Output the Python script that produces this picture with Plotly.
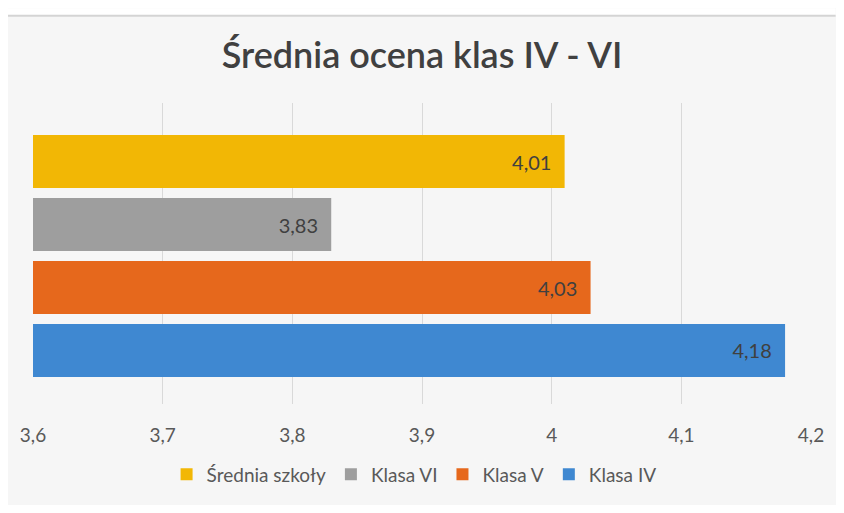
import plotly.graph_objects as go

categories = ["Klasa IV", "Klasa V", "Klasa VI", "Średnia szkoły"]
values = [4.18, 4.03, 3.83, 4.01]
colors = ["#3F88D1", "#E6681C", "#9E9E9E", "#F2B705"]
legend_order = ["Średnia szkoły", "Klasa VI", "Klasa V", "Klasa IV"]
x_ticks = [3.6, 3.7, 3.8, 3.9, 4.0, 4.1, 4.2]

# the page body keeps its default 8px margin (white border top/left)
W, H = 828, 497
ML, MR, MT, MB = 25, 17, 95, 90
PW, PH = W - ML - MR, H - MT - MB

fig = go.Figure()
for name in legend_order:
    i = categories.index(name)
    fig.add_trace(go.Bar(
        y=[name], x=[values[i]], orientation="h", name=name,
        marker=dict(color=colors[i], line=dict(width=0)),
        width=0.84,
        texttemplate="%{x:.2f}\u00a0\u00a0", textposition="inside", insidetextanchor="end",
        textfont=dict(color="#404040", size=20, family="Lato"),
        hoverinfo="skip",
    ))

fig.update_layout(
    width=W, height=H,
    margin=dict(l=ML, r=MR, t=MT, b=MB),
    paper_bgcolor="#f6f6f6", plot_bgcolor="rgba(0,0,0,0)",
    separators=", ",
    barmode="overlay",
    title=dict(text="Średnia ocena klas IV - VI", x=0.5, xanchor="center",
               y=1 - 47 / H, yanchor="middle",
               font=dict(family="Lato", size=36, color="#404040", weight=600)),
    font=dict(family="Lato", color="#595959"),
    showlegend=True,
    legend=dict(orientation="h", x=(410 - ML) / PW, xanchor="center",
                y=-(480 - (H - MB)) / PH,
                yanchor="middle", font=dict(size=19, color="#595959"),
                itemwidth=30, traceorder="normal", bgcolor="rgba(0,0,0,0)"),
    xaxis=dict(range=[3.6, 4.2], tickvals=x_ticks, showgrid=True,
               gridcolor="#d9d9d9", gridwidth=1, zeroline=False, showline=False,
               ticks="", tickfont=dict(size=19, color="#595959"),
               ticklabelstandoff=18),
    yaxis=dict(categoryorder="array", categoryarray=categories,
               range=[-0.85, 3.93], showticklabels=False, showgrid=False,
               zeroline=False, showline=False),
    shapes=[
        dict(type="rect", xref="paper", yref="paper", layer="below",
             x0=-ML / PW - 0.01, x1=1 + MR / PW + 0.01,
             y0=1 + (MT - 4) / PH, y1=1 + MT / PH + 0.01,
             fillcolor="white", line=dict(width=0)),
        dict(type="line", xref="paper", yref="paper", layer="below",
             x0=-ML / PW - 0.01, x1=1 + MR / PW + 0.01,
             y0=1 + (MT - 4.5) / PH, y1=1 + (MT - 4.5) / PH,
             line=dict(color="#d4d4d4", width=2)),
    ],
)

fig.write_html("out.html", config={"displayModeBar": False})
